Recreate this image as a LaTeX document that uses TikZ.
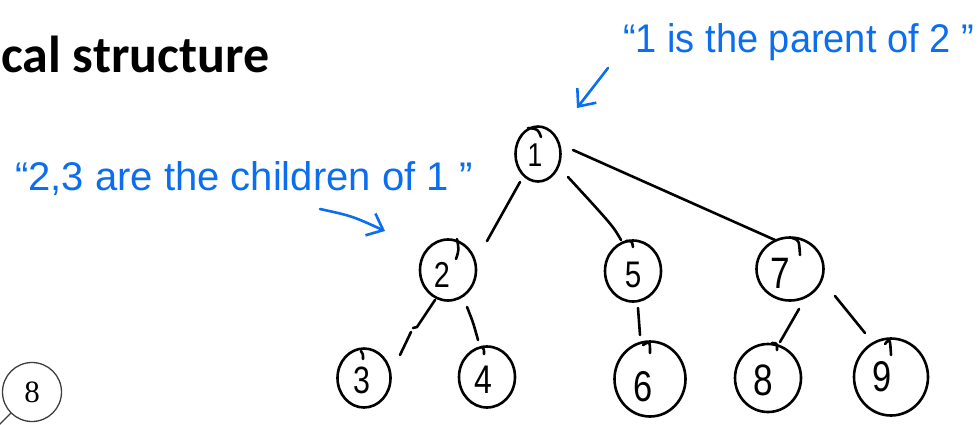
\documentclass[tikz,border=0pt]{standalone}
\usepackage{graphicx}
\usepackage{fontspec}
\setmainfont{Liberation Sans}
\newfontfamily\titlefont{Carlito}
\newfontfamily\serifnum{Liberation Serif}
\usetikzlibrary{shapes.geometric,arrows.meta}
\definecolor{inkblue}{RGB}{10,110,238}
\definecolor{pagegray}{RGB}{60,60,60}
% narrow, hand-sized digit
\newcommand{\handdigit}[2]{\scalebox{0.8}[1]{\fontsize{#1}{#1}\selectfont #2}}
\tikzset{
  hand/.style={line width=2.6pt, line cap=round, line join=round, black},
  tnode/.style={ellipse, draw, hand, inner sep=0pt},
  dig/.style={inner sep=0pt, text=black},
  note/.style={inner sep=0pt, text=inkblue, font=\fontsize{40}{44}\selectfont},
  notearrow/.style={line width=2.6pt, line cap=round, line join=round, inkblue,
    -{Straight Barb[length=14pt, width=24pt, line width=2.6pt]}},
}
\begin{document}
\begin{tikzpicture}[x=1pt, y=-1pt]
\useasboundingbox (0,0) rectangle (979,424);

% slide title (left part cut off by the page edge)
\node[anchor=base west, inner sep=0pt, font=\titlefont\bfseries\fontsize{52}{58}\selectfont] (title) at (1,72) {cal structure};

% page number badge
\node[circle, draw=pagegray, line width=1.3pt, minimum size=59pt, inner sep=0pt,
      font=\serifnum\fontsize{31}{32}\selectfont] (page) at (32,392) {8};
\coordinate (pagetail) at (-2,426);
\draw[pagegray, line width=1.3pt] (page.225) -- (pagetail);

% tree nodes
\node[tnode, minimum width=45pt, minimum height=55pt,
  label={[dig, xshift=-3pt, yshift=-1pt]center:\handdigit{33}{1}}] (n1) at (538,154) {};
\node[tnode, minimum width=56pt, minimum height=61pt,
  label={[dig, xshift=-6pt, yshift=-5pt]center:\handdigit{36}{2}}] (n2) at (448,270) {};
\node[tnode, minimum width=53pt, minimum height=59pt,
  label={[dig, xshift=-2pt, yshift=-2pt]center:\handdigit{38}{3}}] (n3) at (364,378) {};
\node[tnode, minimum width=56pt, minimum height=61pt,
  label={[dig, xshift=-4pt, yshift=-3pt]center:\handdigit{40}{4}}] (n4) at (487,377) {};
\node[tnode, minimum width=56pt, minimum height=61pt,
  label={[dig, xshift=0pt, yshift=-4pt]center:\handdigit{37}{5}}] (n5) at (633,271) {};
\node[tnode, minimum width=71pt, minimum height=75pt,
  label={[dig, xshift=-7pt, yshift=-8pt]center:\handdigit{43}{6}}] (n6) at (650,379) {};
\node[tnode, minimum width=67pt, minimum height=63pt,
  label={[dig, xshift=-10pt, yshift=-4pt]center:\handdigit{44}{7}}] (n7) at (790,269) {};
\node[tnode, minimum width=66pt, minimum height=68pt,
  label={[dig, xshift=-5pt, yshift=-2pt]center:\handdigit{44}{8}}] (n8) at (768,378) {};
\node[tnode, minimum width=74pt, minimum height=77pt,
  label={[dig, xshift=-9pt, yshift=0pt]center:\handdigit{43}{9}}] (n9) at (891,377) {};

% pen overlaps where each circle was closed
\draw[hand] ([shift={(-10,-26)}]n1.center) .. controls ([shift={(0,-25)}]n1.center) .. ([shift={(3,-17)}]n1.center);
\draw[hand] ([shift={(9,-31)}]n2.center) .. controls ([shift={(11,-20)}]n2.center) .. ([shift={(8,-11)}]n2.center);
\draw[hand] ([shift={(-3,-27)}]n3.center) .. controls ([shift={(-1,-24)}]n3.center) .. ([shift={(-1,-19)}]n3.center);
\draw[hand] ([shift={(-5,-30)}]n4.center) .. controls ([shift={(-3,-28)}]n4.center) .. ([shift={(-3,-23)}]n4.center);
\draw[hand] ([shift={(-7,-30)}]n5.center) .. controls ([shift={(-1,-30)}]n5.center) .. ([shift={(0,-24)}]n5.center);
\draw[hand] ([shift={(-7,-34)}]n6.center) .. controls ([shift={(0,-38)}]n6.center) .. ([shift={(0,-26)}]n6.center);
\draw[hand] ([shift={(2,-31)}]n7.center) .. controls ([shift={(9,-29)}]n7.center) .. ([shift={(10,-14)}]n7.center);
\draw[hand] ([shift={(4,-35)}]n8.center) .. controls ([shift={(9,-35)}]n8.center) .. ([shift={(9,-28)}]n8.center);
\draw[hand] ([shift={(-6,-33)}]n9.center) .. controls ([shift={(-1,-39)}]n9.center) .. ([shift={(0,-22)}]n9.center);

% edges, drawn with small gaps as by hand
\draw[hand] ([shift={(-18,28)}]n1.center) -- ([shift={(39,-29)}]n2.center);
\draw[hand] ([shift={(30,23)}]n1.center) .. controls ([shift={(-20,-45)}]n5.center) .. ([shift={(-12,-31)}]n5.center);
\draw[hand] ([shift={(35,-4)}]n1.center) -- ([shift={(-15,-29)}]n7.center);
\draw[hand] ([shift={(-13,30)}]n2.center) -- ([shift={(-31,57)}]n2.center) -- ([shift={(-35,58)}]n2.center)
            ([shift={(-37,62)}]n2.center) -- ([shift={(36,-23)}]n3.center);
\draw[hand] ([shift={(19,37)}]n2.center) .. controls ([shift={(-14,-55)}]n4.center) .. ([shift={(-9,-37)}]n4.center);
\draw[hand] ([shift={(5,37)}]n5.center) -- ([shift={(-10,-44)}]n6.center);
\draw[hand] ([shift={(9,40)}]n7.center) -- ([shift={(12,-36)}]n8.center);
\draw[hand] ([shift={(45,27)}]n7.center) -- ([shift={(-26,-44)}]n9.center);

% annotations
\node[note, anchor=base west] (childnote) at (15,190) {“2,3 are the children of 1 ”};
\coordinate (childtail) at (320,209);
\coordinate (childtip) at (385,231);
\draw[notearrow] (childtail) .. controls (352,216) .. (childtip);

\node[note, anchor=base west] (parentnote) at (623,52) {\scalebox{0.95}[1]{“1 is the parent of 2 ”}};
\coordinate (parenttail) at (608,68);
\coordinate (parenttip) at (577,108);
\draw[notearrow] (parenttail) -- (parenttip);
\end{tikzpicture}
\end{document}
